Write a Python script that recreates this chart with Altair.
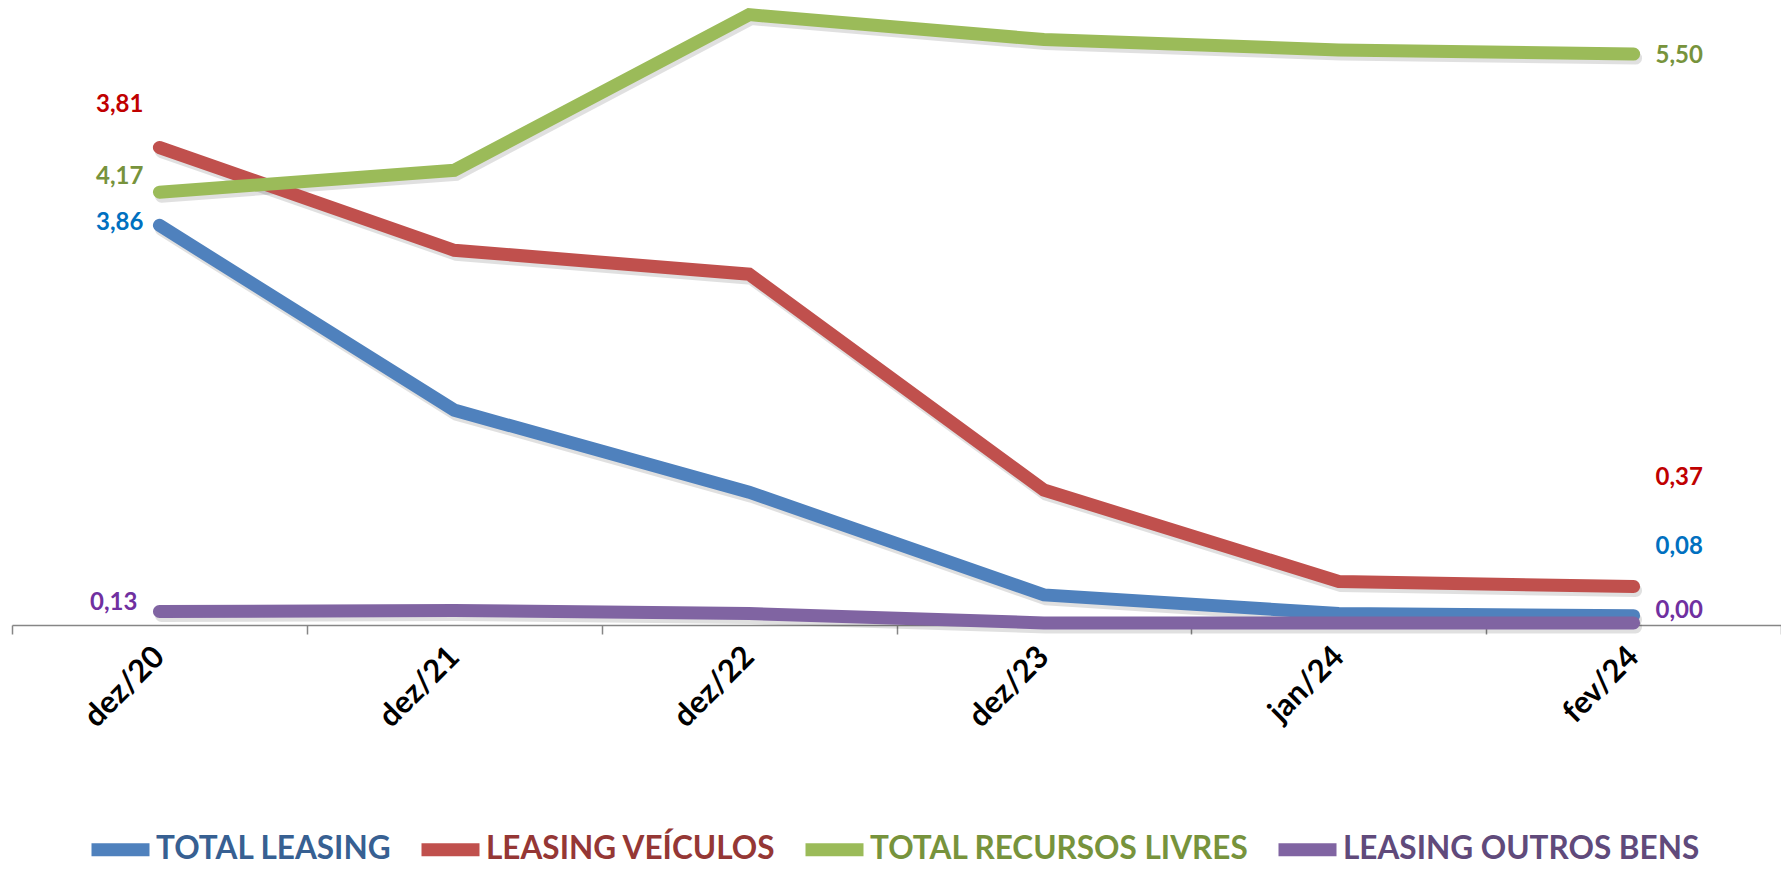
import altair as alt
import pandas as pd

categories = ["dez/20", "dez/21", "dez/22", "dez/23", "jan/24", "fev/24"]
series_names = ["TOTAL LEASING", "LEASING VEÍCULOS", "TOTAL RECURSOS LIVRES", "LEASING OUTROS BENS"]

total_leasing = [3.85, 2.07, 1.28, 0.29, 0.11, 0.09]
leasing_veiculos = [4.60, 3.61, 3.38, 1.30, 0.42, 0.37]
total_recursos_livres = [4.17, 4.38, 5.88, 5.64, 5.54, 5.50]
leasing_outros_bens = [0.13, 0.14, 0.11, 0.02, 0.02, 0.02]

first_labels = ["3,86", "3,81", "4,17", "0,13"]
last_labels = ["0,08", "0,37", "5,50", "0,00"]

line_colors = ["#4F81BD", "#C0504D", "#9BBB59", "#8064A2"]
legend_text_colors = ["#376092", "#953735", "#77933C", "#604A7B"]
label_colors = ["#0070C0", "#C00000", "#77933C", "#7030A0"]

all_values = [total_leasing, leasing_veiculos, total_recursos_livres, leasing_outros_bens]

rows = []
for name, vals in zip(series_names, all_values):
    for c, v in zip(categories, vals):
        rows.append({"cat": c, "value": v, "series": name})
df = pd.DataFrame(rows)

FONT = "Lato"
W, H = 1769, 617

x_enc = alt.X(
    "cat:N",
    sort=categories,
    scale=alt.Scale(type="band", paddingInner=0, paddingOuter=0),
    axis=alt.Axis(
        title=None, tickBand="extent", labelAngle=-45, labelAlign="right",
        labelBaseline="middle", labelFont=FONT, labelFontWeight="bold",
        labelFontSize=31, labelColor="black", labelPadding=18, labelOffset=0,
        tickSize=9, tickColor="#868686", tickWidth=1.5, domainColor="#868686",
        domainWidth=1.5, grid=False,
    ),
)
y_enc = alt.Y("value:Q", scale=alt.Scale(domain=[0, 5.944], nice=False, zero=True), axis=None)

expr_parts = ""
for n, c in zip(series_names, legend_text_colors):
    expr_parts += f"datum.label == '{n}' ? '{c}' : "
expr_parts += "'black'"

color_enc = alt.Color(
    "series:N",
    scale=alt.Scale(domain=series_names, range=line_colors),
    legend=alt.Legend(
        orient="none", legendX=73, legendY=806, direction="horizontal", title=None,
        symbolType="stroke", symbolStrokeWidth=13, symbolSize=3364,
        labelFont=FONT, labelFontWeight="bold", labelFontSize=31.5,
        labelColor=alt.ExprRef(expr_parts), labelOffset=0, columnPadding=3,
        labelLimit=600,
    ),
)

base = alt.Chart(df)

shadow = base.mark_line(
    color="#000000", opacity=0.12, strokeWidth=13, strokeCap="round", xOffset=2, yOffset=4
).encode(x=x_enc, y=y_enc, detail="series:N")

layers = [shadow]
for name in series_names:
    layers.append(
        base.transform_filter(alt.datum.series == name)
        .mark_line(strokeWidth=13, strokeCap="round")
        .encode(x=x_enc, y=y_enc, color=color_enc)
    )

# label placement (style): (dx, dy) for first and last labels
first_offsets = [(-16, -2), (-16, -43), (-16, -15), (-22, -9)]
last_offsets = [(22, -69), (22, -109), (22, 2), (22, -12)]

for i, name in enumerate(series_names):
    vals = all_values[i]
    for idx, txt, (dx, dy), align in [
        (0, first_labels[i], first_offsets[i], "right"),
        (len(categories) - 1, last_labels[i], last_offsets[i], "left"),
    ]:
        ldf = pd.DataFrame([{"cat": categories[idx], "value": vals[idx], "txt": txt}])
        layers.append(
            alt.Chart(ldf).mark_text(
                align=align, baseline="middle", dx=dx, dy=dy, font=FONT,
                fontWeight="bold", fontSize=24, color=label_colors[i],
            ).encode(x=x_enc, y=y_enc, text="txt:N")
        )

chart = alt.layer(*layers).properties(
    width=W, height=H,
    autosize=alt.AutoSizeParams(type="none"),
    padding={"left": 4, "top": 0, "right": 0, "bottom": 243},
    background="white",
).configure_view(stroke=None)

chart.save("out.html", embed_options={"renderer": "svg", "actions": False})
